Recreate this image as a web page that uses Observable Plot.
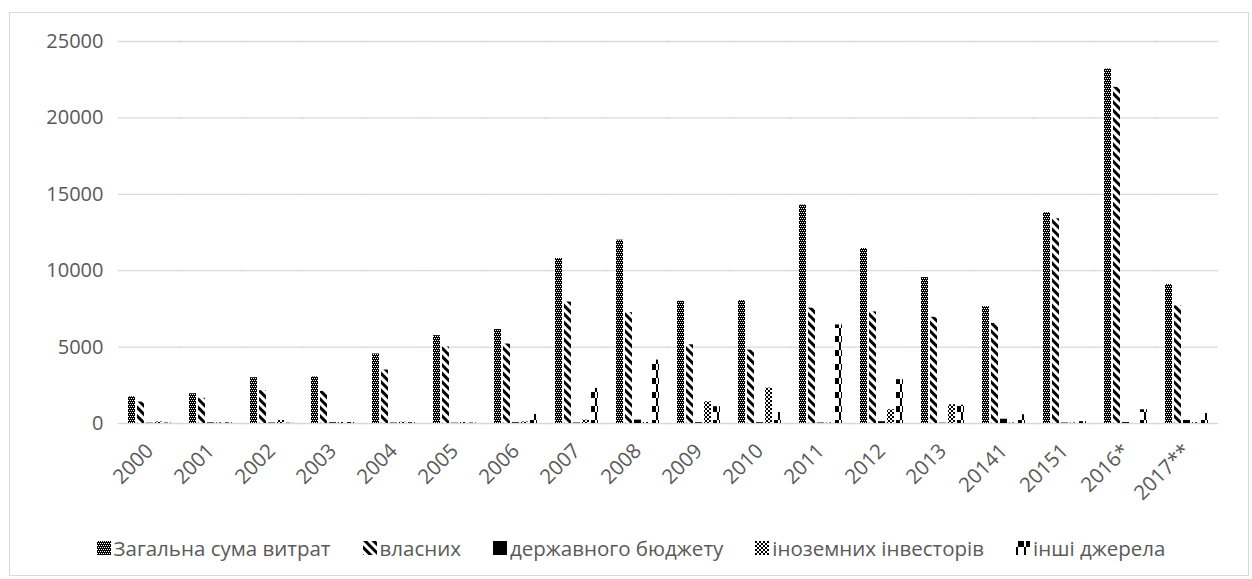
<!DOCTYPE html>
<html>
<head>
<meta charset="utf-8">
<script src="https://cdn.jsdelivr.net/npm/d3@7"></script>
<script src="https://cdn.jsdelivr.net/npm/@observablehq/plot@0.6"></script>
<style>
  html, body { margin: 0; padding: 0; background: #fff; }
  #frame { position: absolute; left: 9px; top: 12px; width: 1240px; height: 564px; border: 1px solid #d9d9d9; box-sizing: border-box; }
  #chart { position: absolute; left: 0; top: 0; }
  #legend { position: absolute; left: 0; width: 1262px; top: 534px; display: flex; justify-content: center; gap: 32px;
            font-family: "Open Sans", sans-serif; font-size: 20.5px; color: #595959; }
  #legend .item { display: flex; align-items: center; gap: 3px; white-space: nowrap; }
  #legend svg { display: block; }
</style>
</head>
<body>
<div id="frame"></div>
<svg width="0" height="0" style="position:absolute">
  <defs>
    <pattern id="p-total" width="4" height="4" patternUnits="userSpaceOnUse">
      <rect width="4" height="4" fill="#000"/>
      <rect x="0" y="0" width="1" height="1" fill="#fff"/>
      <rect x="2" y="0" width="1" height="1" fill="#fff"/>
      <rect x="1" y="2" width="1" height="1" fill="#fff"/>
      <rect x="3" y="2" width="1" height="1" fill="#fff"/>
    </pattern>
    <pattern id="p-own" width="6" height="6" patternUnits="userSpaceOnUse" patternTransform="rotate(-45)">
      <rect width="6" height="6" fill="#fff"/>
      <rect width="3" height="6" fill="#000"/>
    </pattern>
    <pattern id="p-state" width="4" height="4" patternUnits="userSpaceOnUse">
      <rect width="4" height="4" fill="#000"/>
    </pattern>
    <pattern id="p-foreign" width="4" height="4" patternUnits="userSpaceOnUse">
      <rect width="4" height="4" fill="#fff"/>
      <rect x="0" y="0" width="2" height="2" fill="#000"/>
      <rect x="2" y="2" width="2" height="2" fill="#000"/>
    </pattern>
    <pattern id="p-other" width="8" height="14" patternUnits="userSpaceOnUse">
      <rect width="8" height="14" fill="#fff"/>
      <rect x="2" y="0" width="6" height="6" fill="#000"/>
      <rect x="0" y="6" width="2" height="8" fill="#000"/>
    </pattern>
  </defs>
</svg>
<div id="chart"></div>
<div id="legend"></div>
<script>
const years = ["2000","2001","2002","2003","2004","2005","2006","2007","2008","2009","2010","2011","2012","2013","20141","20151","2016*","2017**"];
const seriesNames = ["Загальна сума витрат","власних","державного бюджету","іноземних інвесторів","інші джерела"];
const total   = [1750,1950,3000,3050,4550,5750,6150,10800,12000,8000,8050,14300,11450,9550,7650,13800,23200,9100];
const own     = [1400,1650,2150,2100,3500,5000,5200,7950,7250,5150,4800,7550,7300,6950,6550,13400,22000,7700];
const state   = [20,40,30,50,30,20,50,30,220,50,50,30,120,20,280,30,60,200];
const foreign = [100,40,200,60,80,60,100,220,60,1420,2320,30,900,1225,30,30,0,50];
const other   = [30,40,20,60,50,30,590,2300,4150,1100,720,6450,2870,1200,570,120,900,650];
const yTicks  = [0,5000,10000,15000,20000,25000];
const patternIds = ["url(#p-total)","url(#p-own)","url(#p-state)","url(#p-foreign)","url(#p-other)"];

const seriesValues = [total, own, state, foreign, other];
const data = [];
years.forEach((yr, i) => {
  seriesNames.forEach((s, j) => data.push({year: yr, series: s, value: seriesValues[j][i]}));
});

const W = 1252, H = 520;
const chart = Plot.plot({
  width: W,
  height: H,
  marginLeft: 110,
  marginRight: 25,
  marginTop: 41,
  marginBottom: 97,
  style: {fontFamily: "'Open Sans', sans-serif", fontSize: "20px", color: "#595959", background: "transparent"},
  fx: {domain: years, paddingInner: 0.226, paddingOuter: 0.13, label: null},
  x: {domain: seriesNames, padding: 0.2, axis: null},
  y: {domain: [0, 25000], ticks: yTicks, label: null},
  color: {domain: seriesNames, range: patternIds},
  marks: [
    Plot.gridY(yTicks, {stroke: "#d9d9d9", strokeOpacity: 1, strokeWidth: 1.3, insetLeft: -8, insetRight: -8}),
    Plot.axisY(yTicks, {tickSize: 0, tickPadding: 23, label: null, fontSize: 20, fill: "#595959", tickFormat: d => String(d)}),
    Plot.axisFx({anchor: "bottom", tickSize: 0, tickPadding: 24, tickRotate: -45, label: null, fontSize: 20.5, fill: "#595959"}),
    Plot.barY(data, {fx: "year", x: "series", y: "value", fill: "series"})
  ]
});
document.getElementById("chart").appendChild(chart);

const legend = document.getElementById("legend");
seriesNames.forEach((s, j) => {
  const item = document.createElement("div");
  item.className = "item";
  const ns = "http://www.w3.org/2000/svg";
  const sw = document.createElementNS(ns, "svg");
  sw.setAttribute("width", 14); sw.setAttribute("height", 14);
  const r = document.createElementNS(ns, "rect");
  r.setAttribute("width", 14); r.setAttribute("height", 14);
  r.setAttribute("fill", patternIds[j]);
  sw.appendChild(r);
  item.appendChild(sw);
  const t = document.createElement("span");
  t.textContent = s;
  item.appendChild(t);
  legend.appendChild(item);
});
</script>
</body>
</html>
